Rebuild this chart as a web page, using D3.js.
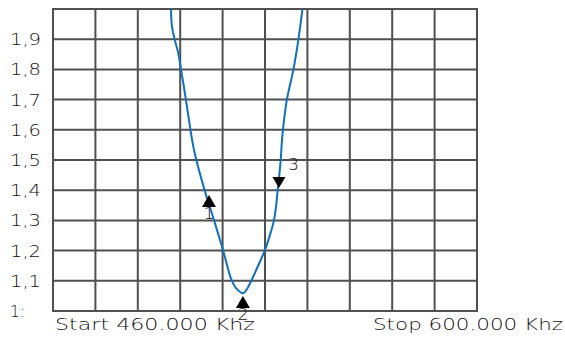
<!DOCTYPE html>
<html>
<head>
<meta charset="utf-8">
<script src="https://cdn.jsdelivr.net/npm/d3@7"></script>
<style>
	body { margin: 0; background: #fff; }
	text { font-family: "DejaVu Sans", sans-serif; font-weight: 200; fill: #111; }
</style>
</head>
<body>
<svg id="swrchart"></svg>
<script>
// trace (frequency in kHz, SWR)
let freqs = [498.96, 499.23, 500.12, 501.27, 502.26, 503.85, 504.91, 506.56, 510.02, 513.16, 516.13, 518.94, 520.42, 522.84,
	524.06, 525.61, 527.69, 530.0, 531.65, 532.97, 533.70, 534.19, 534.72, 535.18, 535.61, 536.27, 537.26, 539.41, 541.06, 542.38];
let swr = [2.0, 1.947, 1.901, 1.858, 1.801, 1.702, 1.632, 1.533, 1.401, 1.301, 1.202, 1.103, 1.076, 1.059,
	1.073, 1.103, 1.149, 1.202, 1.252, 1.301, 1.351, 1.401, 1.450, 1.500, 1.566, 1.632, 1.702, 1.801, 1.901, 2.0];

// markers
let markerNames = ["1", "2", "3"];
let markerFreqs = [511.5, 522.7, 534.6];
let markerSwr = [1.384, 1.050, 1.407];
let markerDir = ["up", "up", "down"];

// axis labels
let yTickValues = [1.0, 1.1, 1.2, 1.3, 1.4, 1.5, 1.6, 1.7, 1.8, 1.9];
let yTickLabels = ["1:", "1,1", "1,2", "1,3", "1,4", "1,5", "1,6", "1,7", "1,8", "1,9"];
let xGridValues = [460, 474, 488, 502, 516, 530, 544, 558, 572, 586, 600];
let startLabel = "Start 460.000 Khz";
let stopLabel = "Stop 600.000 Khz";

function makeChart() {
	let w = 565;
	let h = 338;

	let marginT = 9;
	let marginL = 53;
	let marginR = 88;
	let marginB = 27;

	let xScale = d3.scaleLinear()
		.domain([460, 600])
		.range([marginL, w - marginR]);

	let yScale = d3.scaleLinear()
		.domain([1, 2])
		.range([h - marginB, marginT]);

	let chart = d3.select('#swrchart')
		.attr('width', w)
		.attr('height', h);

	// GRID
	let grid = chart.append('g')
		.attr('stroke', '#505050')
		.attr('stroke-width', 2);

	grid.selectAll('.vline')
		.data(xGridValues)
		.enter()
		.append('line')
		.attr('x1', d => xScale(d))
		.attr('x2', d => xScale(d))
		.attr('y1', yScale(2) - 1)
		.attr('y2', yScale(1) + 1);

	grid.selectAll('.hline')
		.data(yTickValues.concat([2.0]))
		.enter()
		.append('line')
		.attr('x1', xScale(460) - 1)
		.attr('x2', xScale(600) + 1)
		.attr('y1', d => yScale(d))
		.attr('y2', d => yScale(d));

	// Y LABELS
	chart.append('g')
		.selectAll('text')
		.data(yTickValues)
		.enter()
		.append('text')
		.attr('x', 10)
		.attr('y', d => yScale(d) + 6)
		.attr('font-size', 16)
		.attr('textLength', (d, i) => i == 0 ? 15 : 31)
		.attr('lengthAdjust', 'spacingAndGlyphs')
		.text((d, i) => yTickLabels[i]);

	// TRACE
	chart.append('clipPath')
		.attr('id', 'plotclip')
		.append('rect')
		.attr('x', xScale(460))
		.attr('y', yScale(2))
		.attr('width', xScale(600) - xScale(460))
		.attr('height', yScale(1) - yScale(2));

	let line = d3.line()
		.x(d => xScale(d[0]))
		.y(d => yScale(d[1]))
		.curve(d3.curveCatmullRom.alpha(0.5));

	chart.append('path')
		.datum(freqs.map((f, i) => [f, swr[i]]))
		.attr('clip-path', 'url(#plotclip)')
		.attr('fill', 'none')
		.attr('stroke', '#1170bf')
		.attr('stroke-width', 2)
		.attr('d', line);

	// X LABELS
	chart.append('text')
		.attr('x', 55)
		.attr('y', 330)
		.attr('font-size', 16.5)
		.attr('textLength', 200)
		.attr('lengthAdjust', 'spacingAndGlyphs')
		.text(startLabel);

	chart.append('text')
		.attr('x', 373)
		.attr('y', 330)
		.attr('font-size', 16.5)
		.attr('textLength', 190)
		.attr('lengthAdjust', 'spacingAndGlyphs')
		.text(stopLabel);

	// MARKERS
	let markers = chart.append('g')
		.selectAll('g')
		.data(markerNames)
		.enter()
		.append('g')
		.attr('transform', (d, i) => `translate(${xScale(markerFreqs[i])},${yScale(markerSwr[i])})`);

	markers.append('text')
		.attr('font-size', 15)
		.attr('text-anchor', (d, i) => markerDir[i] == 'down' ? 'start' : 'middle')
		.attr('x', (d, i) => markerDir[i] == 'down' ? 9 : 0)
		.attr('y', (d, i) => markerDir[i] == 'down' ? -18 : 24)
		.attr('textLength', 11)
		.attr('lengthAdjust', 'spacingAndGlyphs')
		.text(d => d);

	markers.append('path')
		.attr('fill', '#000')
		.attr('d', (d, i) => markerDir[i] == 'up' ? 'M0,0 L7,12 L-7,12 Z' : 'M0,0 L6.5,-11 L-6.5,-11 Z');
}

window.onload = function () {
	makeChart();
}
</script>
</body>
</html>
